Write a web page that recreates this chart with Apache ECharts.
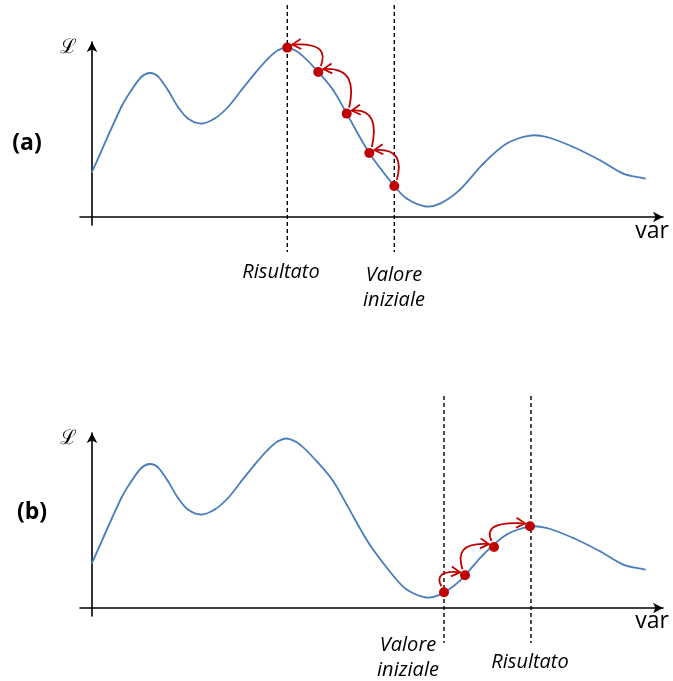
<!DOCTYPE html>
<html><head><meta charset="utf-8">
<script src="https://cdn.jsdelivr.net/npm/echarts@6/dist/echarts.min.js"></script>
<style>html,body{margin:0;padding:0;background:#fff}#c{width:673px;height:681px}</style>
</head><body><div id="c"></div>
<script>
// Curve (same landscape in both panels): var values and likelihood values
const curveVar = [0, 29.3, 39.3, 49.3, 57.7, 66, 76, 86, 96, 109.3, 122.7, 136, 149.3, 162.7, 176, 186, 195.3, 208, 226.3, 241.3, 254.7, 277.3, 302.3, 314.7, 333, 348, 368, 391.3, 414.7, 438, 454.7, 481.3, 508, 531.3, 553];
const curveL   = [45, 110, 126.7, 140, 144, 140.7, 126.7, 110, 98.4, 93.4, 98.4, 110, 126.7, 143.4, 158.4, 166.7, 169.4, 163.4, 145, 126.7, 103.4, 64, 31, 18.4, 10.7, 13.4, 27.4, 53.4, 73.4, 81.4, 80, 70, 56.7, 43.4, 38.4];
// Iteration points (a): from initial value to result
const stepsAVar = [302.3, 277.3, 254.7, 226.3, 195.3];
const stepsAL   = [31, 64, 103.4, 145, 169.4];
// Iteration points (b)
const stepsBVar = [352, 373, 402, 438];
const stepsBL   = [15.7, 32.7, 61, 81.7];
// Marker lines: [initial value, result]
const markA = {init: 302.3, result: 195.3};
const markB = {init: 352, result: 439};
const markTop = 212, markBottom = -35;
const labels = {init: ['Valore', 'iniziale'], result: 'Risultato', axisX: 'var', axisY: 'ℒ'};

const curve = curveVar.map((x, i) => [x, curveL[i]]);
const ptsA = stepsAVar.map((x, i) => [x, stepsAL[i]]);
const ptsB = stepsBVar.map((x, i) => [x, stepsBL[i]]);
const pairs = pts => pts.slice(0, -1).map((p, i) => [p[0], p[1], pts[i + 1][0], pts[i + 1][1]]);

const RED = '#c00000', BLUE = '#4a7ebb';

// slope of the smooth curve at each sample (central differences)
const slope = curveVar.map((x, i) => {
  const a = Math.max(0, i - 1), b = Math.min(curveVar.length - 1, i + 1);
  return (curveL[b] - curveL[a]) / (curveVar[b] - curveVar[a]);
});

function curveRenderer(params, api) {
  const i = params.dataIndex;
  if (i >= curveVar.length - 1) return null;
  const x0 = curveVar[i], x1 = curveVar[i + 1], h = x1 - x0;
  const p0 = api.coord([x0, curveL[i]]);
  const c1 = api.coord([x0 + h / 3, curveL[i] + slope[i] * h / 3]);
  const c2 = api.coord([x1 - h / 3, curveL[i + 1] - slope[i + 1] * h / 3]);
  const p1 = api.coord([x1, curveL[i + 1]]);
  return {type: 'bezierCurve', shape: {x1: p0[0], y1: p0[1], x2: p1[0], y2: p1[1], cpx1: c1[0], cpy1: c1[1], cpx2: c2[0], cpy2: c2[1]},
    style: {stroke: BLUE, fill: null, lineWidth: 1.8, lineCap: 'round'}};
}

function arrowRenderer(s) {
  return function (params, api) {
    const p0 = api.coord([api.value(0), api.value(1)]);
    const p1 = api.coord([api.value(2), api.value(3)]);
    const P0 = [p0[0] - s * 2.5, p0[1] - 6];
    const P3 = [p1[0] - s * 5, p1[1] - 3];
    const dy = P0[1] - P3[1];
    const c1 = [P0[0] - s * 5, P0[1] - 0.6 * dy];
    const c2 = [P0[0] - s * 2, P3[1] - 2];
    let dx = P3[0] - c2[0], dyy = P3[1] - c2[1];
    const len = Math.hypot(dx, dyy) || 1; dx /= len; dyy /= len;
    const a = 30 * Math.PI / 180, L = 10;
    const bx = -dx, by = -dyy;
    const r1 = [P3[0] + L * (bx * Math.cos(a) - by * Math.sin(a)), P3[1] + L * (bx * Math.sin(a) + by * Math.cos(a))];
    const r2 = [P3[0] + L * (bx * Math.cos(-a) - by * Math.sin(-a)), P3[1] + L * (bx * Math.sin(-a) + by * Math.cos(-a))];
    return {
      type: 'group',
      children: [
        {type: 'bezierCurve', shape: {x1: P0[0], y1: P0[1], x2: P3[0], y2: P3[1], cpx1: c1[0], cpy1: c1[1], cpx2: c2[0], cpy2: c2[1]},
         style: {stroke: RED, fill: null, lineWidth: 1.8}},
        {type: 'polyline', shape: {points: [r1, P3, r2]}, style: {stroke: RED, fill: null, lineWidth: 1.8}}
      ]
    };
  };
}

function dashSeries(x, idx) {
  return {type: 'line', xAxisIndex: idx, yAxisIndex: idx, data: [[x, markTop], [x, markBottom]], symbol: 'none', clip: false,
    lineStyle: {color: '#000', width: 1.4, type: [4, 3]}, z: 1, silent: true};
}

const axisCommon = {
  axisTick: {show: false}, axisLabel: {show: false}, splitLine: {show: false}
};
const axisLine = {show: true, onZero: true, symbol: ['none', 'arrow'], symbolSize: [8, 10], lineStyle: {color: '#000', width: 1.6}};

const grids = [{left: 80, width: 583, top: 42, height: 183}, {left: 80, width: 583, top: 433, height: 183}];
const xAxes = [0, 1].map(i => Object.assign({type: 'value', gridIndex: i, min: -12, max: 571, axisLine: axisLine}, axisCommon));
const yAxes = [0, 1].map(i => Object.assign({type: 'value', gridIndex: i, min: -8, max: 175, axisLine: axisLine}, axisCommon));

const txt = (t, x, y, extra) => ({type: 'text', x: x, y: y, style: Object.assign({text: t, fill: '#000', align: 'center', verticalAlign: 'middle', font: 'italic 20px "Open Sans"'}, extra || {})});

const option = {
  animation: false,
  grid: grids,
  xAxis: xAxes,
  yAxis: yAxes,
  series: [
    dashSeries(markA.result, 0), dashSeries(markA.init, 0),
    dashSeries(markB.init, 1), dashSeries(markB.result, 1),
    {type: 'custom', xAxisIndex: 0, yAxisIndex: 0, data: curve, renderItem: curveRenderer, z: 2},
    {type: 'custom', xAxisIndex: 1, yAxisIndex: 1, data: curve, renderItem: curveRenderer, z: 2},
    {type: 'custom', xAxisIndex: 0, yAxisIndex: 0, data: pairs(ptsA), renderItem: arrowRenderer(-1), z: 3},
    {type: 'custom', xAxisIndex: 1, yAxisIndex: 1, data: pairs(ptsB), renderItem: arrowRenderer(1), z: 3},
    {type: 'scatter', xAxisIndex: 0, yAxisIndex: 0, data: ptsA, symbolSize: 10, itemStyle: {color: RED, opacity: 1}, z: 4},
    {type: 'scatter', xAxisIndex: 1, yAxisIndex: 1, data: ptsB, symbolSize: 10, itemStyle: {color: RED, opacity: 1}, z: 4}
  ],
  graphic: [
    txt('(a)', 27, 143, {font: 'bold 23px "Open Sans"'}),
    txt('(b)', 32, 512, {font: 'bold 23px "Open Sans"'}),
    txt(labels.axisY, 68, 48, {font: '20px "DejaVu Serif"'}),
    txt(labels.axisY, 68, 439, {font: '20px "DejaVu Serif"'}),
    txt(labels.axisX, 652, 231, {font: '23px "Open Sans"'}),
    txt(labels.axisX, 652, 621, {font: '23px "Open Sans"'}),
    txt(labels.result, 281, 272),
    txt(labels.init[0], 394, 275),
    txt(labels.init[1], 394, 300),
    txt(labels.init[0], 408, 645),
    txt(labels.init[1], 408, 670),
    txt(labels.result, 530, 662)
  ]
};
echarts.init(document.getElementById('c'), null, {renderer: 'canvas'}).setOption(option);
</script>
</body></html>
